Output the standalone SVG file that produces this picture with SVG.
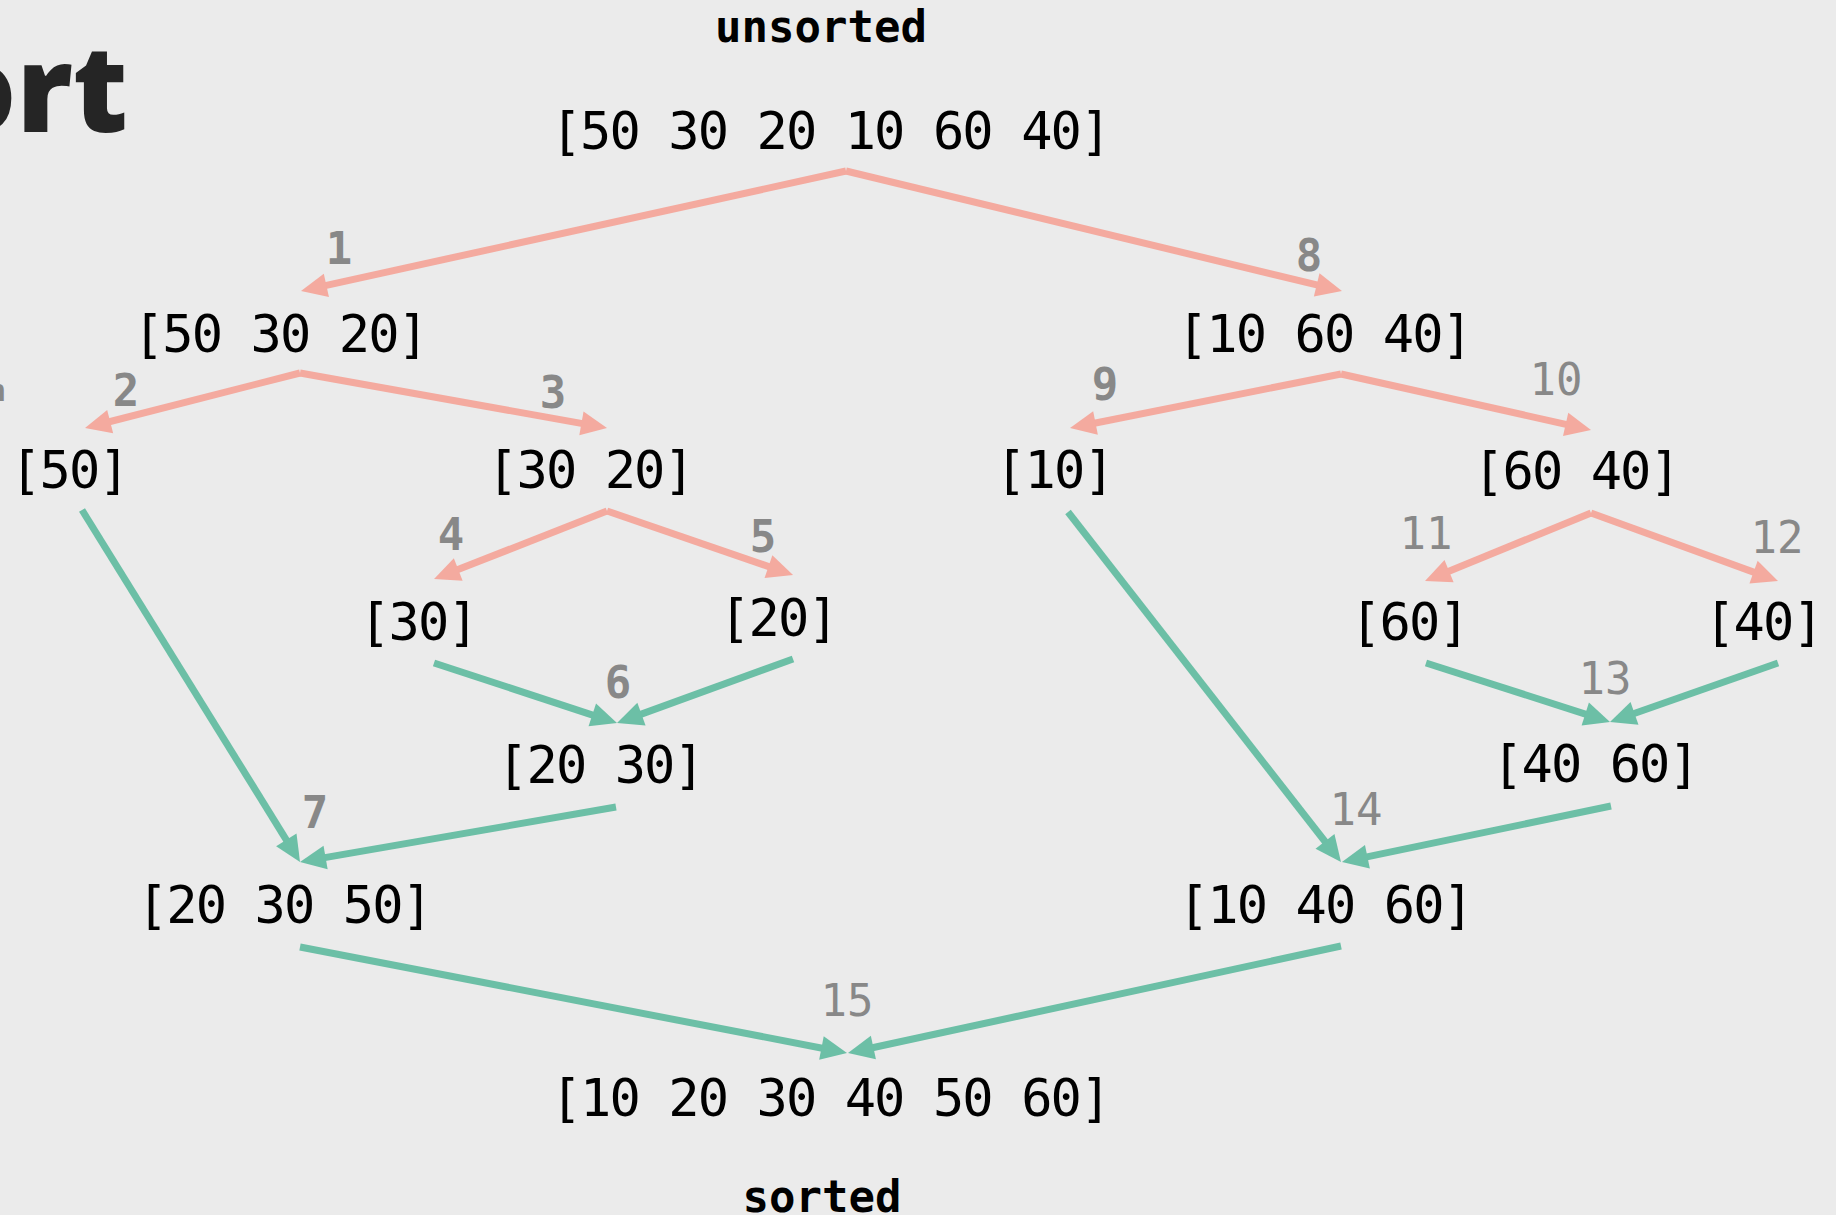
<svg xmlns="http://www.w3.org/2000/svg" width="1836" height="1215" viewBox="0 0 1836 1215">
  <style>
    .node { font-family: "DejaVu Sans Mono", "Liberation Mono", monospace; font-size: 52px; letter-spacing: -1.9px; fill: #000; text-anchor: middle; }
    .step { font-family: "DejaVu Sans Mono", "Liberation Mono", monospace; font-size: 44px; fill: #888888; text-anchor: middle; }
    .step.b { font-weight: bold; }
    .cap { font-family: "DejaVu Sans Mono", "Liberation Mono", monospace; font-size: 44px; font-weight: bold; fill: #000; text-anchor: middle; }
    .split { stroke: #F4AA9F; stroke-width: 7; fill: none; marker-end: url(#headSplit); }
    .merge { stroke: #6CBFA6; stroke-width: 7; fill: none; marker-end: url(#headMerge); }
  </style>
  <defs>
    <marker id="headSplit" markerUnits="userSpaceOnUse" orient="auto" refX="14" refY="0" markerWidth="30" markerHeight="30" overflow="visible">
      <path d="M0,-12 L26,0 L0,12 z" fill="#F4AA9F"/>
    </marker>
    <marker id="headMerge" markerUnits="userSpaceOnUse" orient="auto" refX="14" refY="0" markerWidth="30" markerHeight="30" overflow="visible">
      <path d="M0,-12 L26,0 L0,12 z" fill="#6CBFA6"/>
    </marker>
  </defs>

  <rect x="0" y="0" width="1836" height="1215" fill="#EBEBEB"/>

  <!-- heading, running off the left edge -->
  <text x="128" y="132" font-family="'Open Sans', 'Noto Sans', sans-serif" font-size="120" font-weight="800" fill="#252525" text-anchor="end">Sort</text>
  <text x="-12" y="401" font-family="'DejaVu Sans Mono', monospace" font-size="30" font-weight="bold" fill="#888888">n</text>

  <text class="cap" x="821" y="42">unsorted</text>
  <text class="cap" x="822" y="1212">sorted</text>

  <!-- connectors: splits (salmon) and merges (green) -->
  <g id="connectors">
    <line class="split" x1="846" y1="171" x2="312.7" y2="288.4"/>
    <line class="split" x1="846" y1="171" x2="1330.3" y2="288.2"/>
    <line class="split" x1="300" y1="373" x2="96.6" y2="425"/>
    <line class="split" x1="300" y1="373" x2="595.2" y2="425.9"/>
    <line class="split" x1="607" y1="511" x2="445.2" y2="574.6"/>
    <line class="split" x1="607" y1="511" x2="781.7" y2="571.1"/>
    <line class="split" x1="1341" y1="374" x2="1081.8" y2="425.7"/>
    <line class="split" x1="1341" y1="374" x2="1579.3" y2="427.4"/>
    <line class="split" x1="1591" y1="513" x2="1436.1" y2="576.5"/>
    <line class="split" x1="1591" y1="513" x2="1766.7" y2="576.9"/>

    <line class="merge" x1="434" y1="663" x2="605.6" y2="719.3"/>
    <line class="merge" x1="793" y1="659" x2="628.3" y2="718.9"/>
    <line class="merge" x1="82" y1="510" x2="293.7" y2="851.8"/>
    <line class="merge" x1="616" y1="807" x2="311.8" y2="859.9"/>
    <line class="merge" x1="1426" y1="663" x2="1598.6" y2="718.3"/>
    <line class="merge" x1="1778" y1="663" x2="1621.3" y2="718"/>
    <line class="merge" x1="1068" y1="512" x2="1333.6" y2="852.5"/>
    <line class="merge" x1="1611" y1="806" x2="1353.7" y2="859.6"/>
    <line class="merge" x1="300" y1="947" x2="835.2" y2="1050.7"/>
    <line class="merge" x1="1341" y1="946" x2="859.7" y2="1050.5"/>
  </g>

  <!-- step numbers -->
  <g id="steps">
    <text class="step b" x="339" y="264">1</text>
    <text class="step b" x="126" y="406">2</text>
    <text class="step b" x="553" y="408">3</text>
    <text class="step b" x="451" y="550">4</text>
    <text class="step b" x="763" y="552">5</text>
    <text class="step b" x="618" y="698">6</text>
    <text class="step b" x="315" y="828">7</text>
    <text class="step b" x="1309" y="271">8</text>
    <text class="step b" x="1105" y="400">9</text>
    <text class="step" x="1556" y="395">10</text>
    <text class="step" x="1426" y="549">11</text>
    <text class="step" x="1777" y="553">12</text>
    <text class="step" x="1605" y="694">13</text>
    <text class="step" x="1356" y="825">14</text>
    <text class="step" x="847" y="1016">15</text>
  </g>

  <!-- arrays -->
  <g id="n-root"><text class="node" x="830" y="149">[50 30 20 10 60 40]</text></g>
  <g id="n-left"><text class="node" x="280" y="352">[50 30 20]</text></g>
  <g id="n-right"><text class="node" x="1324" y="352">[10 60 40]</text></g>
  <g id="n-50"><text class="node" x="69" y="488">[50]</text></g>
  <g id="n-30-20"><text class="node" x="590" y="488">[30 20]</text></g>
  <g id="n-10"><text class="node" x="1054" y="488">[10]</text></g>
  <g id="n-60-40"><text class="node" x="1576" y="489">[60 40]</text></g>
  <g id="n-30"><text class="node" x="418" y="640">[30]</text></g>
  <g id="n-20"><text class="node" x="778" y="636">[20]</text></g>
  <g id="n-60"><text class="node" x="1409" y="640">[60]</text></g>
  <g id="n-40"><text class="node" x="1763" y="640">[40]</text></g>
  <g id="n-20-30"><text class="node" x="600" y="783">[20 30]</text></g>
  <g id="n-40-60"><text class="node" x="1595" y="782">[40 60]</text></g>
  <g id="n-20-30-50"><text class="node" x="284" y="923">[20 30 50]</text></g>
  <g id="n-10-40-60"><text class="node" x="1325" y="923">[10 40 60]</text></g>
  <g id="n-sorted"><text class="node" x="830" y="1116">[10 20 30 40 50 60]</text></g>
</svg>
